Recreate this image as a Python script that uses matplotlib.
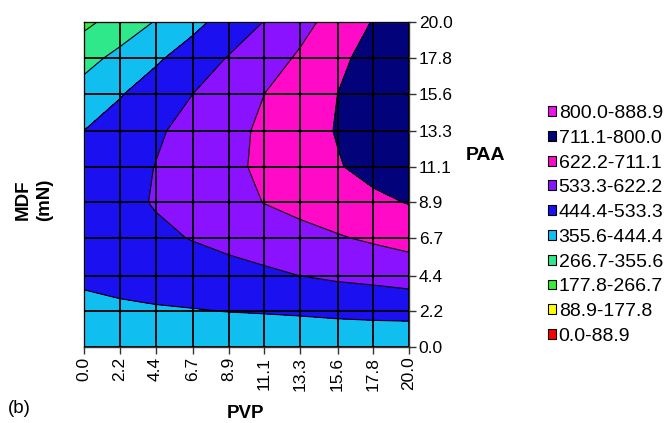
import numpy as np
import matplotlib.pyplot as plt
from matplotlib.patches import Patch

plt.rcParams['font.family'] = ['Liberation Sans', 'DejaVu Sans']

# ------ Data ------#
pvp = [0.0, 2.2, 4.4, 6.7, 8.9, 11.1, 13.3, 15.6, 17.8, 20.0]
paa = [0.0, 2.2, 4.4, 6.7, 8.9, 11.1, 13.3, 15.6, 17.8, 20.0]

# MDF (mN): rows = PAA (bottom to top), columns = PVP (left to right)
mdf = [
    [362, 364, 366, 368, 370, 372, 375, 378, 375, 370],
    [430, 432, 436, 440, 446, 450, 455, 462, 468, 473],
    [454, 467, 480, 492, 505, 518, 534, 548, 557, 570],
    [475, 497, 517, 537, 556, 576, 595, 615, 634, 654],
    [490, 510, 539, 568, 596, 624, 647, 670, 692, 715],
    [468, 502, 535, 570, 604, 638, 671, 705, 739, 760],
    [445, 483, 522, 560, 598, 637, 676, 716, 750, 785],
    [389, 438, 485, 533, 578, 622, 667, 711, 757, 803],
    [326, 379, 431, 484, 538, 585, 633, 690, 745, 775],
    [246, 303, 360, 421, 479, 536, 596, 655, 716, 760],
]

levels = [0.0, 88.9, 177.8, 266.7, 355.6, 444.4, 533.3, 622.2, 711.1, 800.0, 888.9]
band_colors = ['#ff0000', '#ffff00', '#33f033', '#2ee889', '#10bff0',
               '#1a10f0', '#8b12ff', '#ff0ac6', '#02027a', '#f010f0']
#--------------------------------------#

fig = plt.figure(figsize=(6.64, 4.23), dpi=100)
ax = fig.add_axes([0.1265, 0.1797, 0.4895, 0.768])

ax.contourf(pvp, paa, mdf, levels=levels, colors=band_colors)
ax.contour(pvp, paa, mdf, levels=levels, colors='black', linewidths=0.8)

ax.set_xlim(0, 20)
ax.set_ylim(0, 20)
ax.set_xticks(pvp)
ax.set_yticks(paa)
ax.set_xticklabels(['%.1f' % v for v in pvp], rotation=90, fontsize=12.5)
ax.set_yticklabels(['%.1f' % v for v in paa], fontsize=12.5)
ax.yaxis.tick_right()
ax.tick_params(axis='both', direction='out', length=5, width=1, colors='#333333',
               labelcolor='black', pad=2)
ax.set_axisbelow(False)
ax.grid(True, color='black', linewidth=1.3)
for s in ax.spines.values():
    s.set_color('#333333')
    s.set_linewidth(1)

fig.text(34 / 664, 1 - 200 / 423, 'MDF\n(mN)', rotation=90, fontsize=13.5,
         fontweight='bold', ha='center', va='center', linespacing=1.3)
fig.text(466 / 664, 1 - 156 / 423, 'PAA', fontsize=14, fontweight='bold',
         ha='left', va='center')
fig.text(246 / 664, 1 - 413 / 423, 'PVP', fontsize=13.5, fontweight='bold',
         ha='center', va='center')
fig.text(8 / 664, 1 - 408 / 423, '(b)', fontsize=13.5, ha='left', va='center')

handles = []
labels = []
for i in range(len(band_colors) - 1, -1, -1):
    handles.append(Patch(facecolor=band_colors[i], edgecolor='black', linewidth=0.8))
    labels.append('%.1f-%.1f' % (levels[i], levels[i + 1]))
fig.legend(handles, labels, loc='upper left', bbox_to_anchor=(548 / 664, 1 - 105 / 423),
           frameon=False, fontsize=14, handlelength=0.4, handleheight=0.4,
           handletextpad=0.15, labelspacing=0.4, borderaxespad=0, borderpad=0)

fig.savefig('out.png', dpi=100)
